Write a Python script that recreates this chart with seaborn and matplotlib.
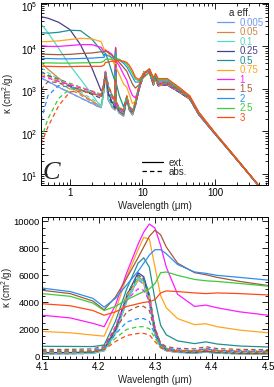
# -*- coding: utf-8 -*-
# Opacites (ext. / abs.) de grains glaces pour plusieurs tailles a_eff
import pandas as pd
import seaborn as sns
import matplotlib
matplotlib.use("Agg")
import matplotlib.pyplot as plt
import matplotlib.transforms as mtransforms
from matplotlib.lines import Line2D
from matplotlib.ticker import LogLocator, FuncFormatter, MultipleLocator, NullFormatter

# --- donnees --------------------------------------------------------------
sizes = ["0.005", "0.05", "0.1", "0.25", "0.5", "0.75", "1", "1.5", "2", "2.5", "3"]
colors = ["#6f9bef", "#d08848", "#52dcc8", "#4a3f8c", "#1f9190", "#ffa51e",
          "#ff1aff", "#a35a3c", "#2a8ff5", "#3ccc3c", "#ff4a14"]

# panneau du haut : grille en longueur d'onde (um)
wl_full = [0.4, 0.5, 0.7, 1.0, 1.4, 2.0, 2.7, 2.95, 3.1, 3.4, 3.8, 4.2, 4.27, 4.35,
           4.8, 5.5, 6.1, 6.6, 7.3, 8.0, 9.0, 10.5, 12.5, 14.2, 15.2, 16.5, 22, 32,
           45, 60, 100, 200, 550]

ext_0005 = [1850, 1500, 1100, 820, 620, 460, 360, 900, 2300, 550, 380, 320, 5800, 380,
            270, 230, 580, 320, 240, 400, 1000, 2500, 2500, 1250, 1800, 1200, 1250, 850,
            580, 250, 88, 22, 2.8]
abs_0005 = [1800, 1480, 1090, 810, 615, 455, 355, 890, 2280, 545, 375, 315, 5750, 375,
            265, 228, 575, 318, 238, 398, 995, 2490, 2490, 1245, 1795, 1195, 1245, 848,
            578, 249, 88, 22, 2.8]
ext_005 = [4200, 2900, 1800, 1150, 780, 530, 380, 920, 2350, 560, 390, 330, 5900, 390,
           280, 240, 590, 330, 250, 410, 1000, 2500, 2500, 1250, 1800, 1200, 1250, 850,
           580, 250, 88, 22, 2.8]
abs_005 = [2600, 2000, 1400, 1000, 720, 500, 370, 900, 2300, 550, 380, 320, 5850, 385,
           275, 235, 585, 325, 245, 405, 995, 2490, 2490, 1245, 1795, 1195, 1245, 848,
           578, 249, 88, 22, 2.8]
ext_01 = [34000, 21000, 9000, 3600, 1700, 760, 370, 950, 2400, 580, 400, 340, 5800, 400,
          290, 250, 600, 340, 260, 420, 1000, 2500, 2500, 1250, 1800, 1200, 1250, 850,
          580, 250, 88, 22, 2.8]
abs_01 = [3200, 2400, 1700, 1200, 850, 590, 420, 980, 2350, 600, 410, 330, 5700, 400,
          285, 245, 595, 335, 255, 415, 995, 2490, 2490, 1245, 1795, 1195, 1245, 848,
          578, 249, 88, 22, 2.8]
ext_025 = [50000, 46000, 37000, 25000, 11000, 3200, 900, 1100, 2600, 800, 500, 380, 6200,
           420, 300, 260, 620, 350, 270, 430, 1000, 2500, 2500, 1250, 1800, 1200, 1250,
           850, 580, 250, 88, 22, 2.8]
abs_025 = [2500, 2100, 1600, 1200, 950, 750, 600, 1100, 2500, 700, 450, 350, 6000, 410,
           295, 255, 610, 345, 265, 425, 995, 2490, 2490, 1245, 1795, 1195, 1245, 848,
           578, 249, 88, 22, 2.8]
ext_05 = [21000, 20500, 21500, 24000, 23500, 15000, 8000, 6000, 7000, 4500, 2500, 1500,
          6500, 1400, 700, 380, 650, 340, 270, 440, 1050, 2550, 2600, 1300, 1850, 1250,
          1300, 880, 590, 255, 89, 22, 2.8]
abs_05 = [2500, 2100, 1700, 1350, 1100, 900, 750, 1400, 2700, 1000, 600, 400, 6000, 420,
          300, 260, 620, 345, 265, 430, 1000, 2450, 2500, 1250, 1800, 1200, 1250, 860,
          585, 253, 89, 22, 2.8]
ext_075 = [13000, 13000, 13500, 14500, 15500, 15000, 13000, 8500, 8500, 7000, 5000, 3500,
           8500, 3200, 2200, 1300, 1100, 750, 450, 520, 1100, 2500, 2700, 1400, 1900, 1300,
           1350, 900, 600, 260, 90, 22, 2.8]
abs_075 = [2200, 1900, 1600, 1300, 1100, 900, 750, 1500, 2700, 1100, 650, 420, 5500, 440,
           310, 270, 640, 350, 270, 440, 1000, 2350, 2500, 1280, 1800, 1220, 1270, 870,
           590, 255, 89, 22, 2.8]
ext_1 = [10500, 10000, 10000, 10500, 11000, 11000, 9500, 7500, 8000, 7500, 6500, 5000,
         9500, 4500, 3500, 2200, 1600, 1050, 700, 620, 1050, 2300, 2700, 1450, 1900, 1350,
         1350, 920, 610, 265, 90, 22, 2.8]
abs_1 = [2000, 1800, 1500, 1250, 1050, 880, 720, 1500, 2600, 1150, 700, 430, 4800, 450,
         320, 280, 650, 360, 280, 450, 950, 2150, 2450, 1300, 1750, 1230, 1260, 880, 595,
         258, 89, 22, 2.8]
ext_15 = [6600, 6500, 6400, 6500, 6800, 7000, 7500, 7200, 8000, 7200, 6200, 5200, 9000,
          5000, 4200, 3200, 2600, 1900, 1300, 1050, 1250, 2300, 2800, 1550, 2000, 1450,
          1450, 960, 630, 270, 91, 22, 2.8]
abs_15 = [950, 1500, 1400, 1150, 950, 800, 680, 1400, 2400, 1150, 720, 470, 3700, 480,
          340, 290, 660, 370, 290, 460, 1050, 2050, 2400, 1350, 1750, 1280, 1300, 900,
          605, 262, 90, 22, 2.8]
ext_2 = [5200, 5200, 5100, 5100, 5200, 5300, 5500, 5500, 6500, 6000, 5500, 5000, 7500,
         5200, 4800, 4000, 3300, 2600, 1900, 1450, 1450, 2300, 2900, 1650, 2100, 1550,
         1550, 1000, 650, 275, 92, 22.5, 2.8]
abs_2 = [180, 700, 1200, 1100, 950, 800, 680, 1350, 2300, 1150, 730, 480, 2800, 490,
         350, 300, 670, 380, 300, 470, 1150, 2000, 2400, 1400, 1750, 1330, 1350, 920, 615,
         265, 90, 22, 2.8]
ext_25 = [4100, 4100, 4050, 4050, 4100, 4150, 4200, 4500, 5000, 5000, 5000, 4700, 6200,
          5000, 5000, 4300, 3800, 3100, 2300, 1700, 1550, 2300, 2950, 1750, 2200, 1650,
          1650, 1050, 670, 280, 93, 22.5, 2.8]
abs_25 = [65, 200, 600, 1000, 950, 800, 680, 1300, 2200, 1150, 740, 490, 2200, 500, 360,
          310, 680, 390, 310, 480, 1200, 1950, 2400, 1450, 1750, 1380, 1400, 940, 625,
          268, 91, 22, 2.8]
ext_3 = [3400, 3400, 3350, 3350, 3400, 3400, 3400, 3600, 4200, 4300, 4500, 4500, 5200,
         4600, 4700, 4500, 4200, 3600, 2700, 1900, 1650, 2300, 3000, 1850, 2300, 1750,
         1750, 1100, 690, 285, 94, 23, 2.8]
abs_3 = [50, 130, 400, 850, 900, 780, 670, 1250, 2100, 1150, 750, 500, 1700, 500, 370,
         320, 690, 400, 320, 490, 1250, 1900, 2400, 1500, 1750, 1420, 1450, 960, 635, 272,
         92, 22, 2.8]

# panneau du bas : zoom sur la bande du CO2 a 4.27 um
wl_co2 = [4.10, 4.15, 4.19, 4.21, 4.23, 4.25, 4.27, 4.28, 4.29, 4.30, 4.31, 4.32, 4.34,
          4.37, 4.39, 4.41, 4.45, 4.50]

co2_ext_0005 = [180, 190, 230, 420, 1700, 4100, 5700, 5400, 4000, 1600, 650, 420, 300,
                240, 320, 240, 190, 170]
co2_abs_0005 = [175, 185, 225, 410, 1680, 4050, 5650, 5350, 3950, 1580, 640, 410, 295,
                235, 315, 235, 185, 165]
co2_ext_005 = [230, 240, 280, 470, 1800, 4200, 5900, 5600, 4100, 1650, 680, 440, 320,
               260, 340, 260, 210, 190]
co2_abs_005 = [220, 230, 270, 460, 1780, 4150, 5850, 5550, 4050, 1630, 670, 430, 315,
               255, 335, 255, 205, 185]
co2_ext_01 = [210, 220, 260, 450, 1750, 4150, 5800, 5550, 4100, 1700, 700, 450, 330,
              270, 350, 270, 220, 200]
co2_abs_01 = [205, 215, 255, 440, 1730, 4100, 5750, 5500, 4050, 1680, 690, 445, 325,
              265, 345, 265, 215, 195]
co2_ext_025 = [280, 290, 330, 560, 2000, 4500, 6200, 5900, 4500, 2000, 850, 530, 380,
               310, 400, 310, 260, 240]
co2_abs_025 = [270, 280, 320, 540, 1950, 4400, 6050, 5750, 4350, 1900, 800, 500, 360,
               295, 385, 295, 250, 230]
co2_ext_05 = [750, 740, 730, 850, 2600, 5000, 6900, 7300, 6600, 4200, 2300, 1600, 1150,
              950, 1080, 920, 770, 700]
co2_abs_05 = [300, 310, 350, 600, 2100, 4600, 6000, 5800, 4600, 2100, 900, 560, 400,
              330, 430, 330, 280, 260]
co2_ext_075 = [1850, 1750, 1580, 1500, 3400, 5900, 7900, 8800, 8700, 6600, 4500, 3600,
               2800, 2350, 2420, 2200, 1950, 1750]
co2_abs_075 = [300, 310, 360, 650, 2200, 4500, 5600, 5400, 4400, 2100, 900, 560, 410,
               340, 460, 350, 300, 280]
co2_ext_1 = [3050, 2850, 2450, 2200, 3800, 6200, 8300, 9200, 9800, 9500, 8200, 6600,
             4600, 3700, 3800, 3600, 3300, 3050]
co2_abs_1 = [380, 390, 430, 700, 2200, 4200, 5000, 4900, 4100, 2100, 950, 620, 470,
             420, 600, 450, 390, 370]
co2_ext_15 = [4900, 4650, 4100, 3450, 4400, 5800, 7300, 8100, 8900, 9350, 9000, 8100,
              6900, 6200, 6050, 5850, 5550, 5250]
co2_abs_15 = [520, 520, 560, 800, 2000, 3300, 3700, 3700, 3400, 1900, 1000, 720, 600,
              560, 720, 580, 520, 500]
co2_ext_2 = [5060, 4800, 4300, 3650, 4300, 5300, 6300, 6900, 7500, 7900, 7900, 7600,
             6800, 6250, 6150, 6000, 5850, 5650]
co2_abs_2 = [420, 420, 450, 650, 1650, 2550, 2800, 2800, 2600, 1600, 850, 600, 480, 440,
             560, 450, 410, 400]
co2_ext_25 = [4650, 4450, 3950, 3400, 3700, 4200, 4600, 4800, 5000, 5400, 6200, 6250,
              6000, 5700, 5600, 5550, 5400, 5200]
co2_abs_25 = [380, 380, 400, 560, 1350, 2000, 2200, 2200, 2050, 1350, 750, 520, 430,
              400, 500, 410, 380, 370]
co2_ext_3 = [3900, 3750, 3400, 3050, 3300, 3700, 3900, 4000, 4050, 4200, 4700, 4850,
             4800, 4700, 4650, 4700, 4650, 4550]
co2_abs_3 = [350, 350, 370, 500, 1100, 1550, 1700, 1700, 1600, 1100, 650, 470, 400, 370,
             450, 380, 350, 340]

ext_full = [ext_0005, ext_005, ext_01, ext_025, ext_05, ext_075, ext_1, ext_15, ext_2,
            ext_25, ext_3]
abs_full = [abs_0005, abs_005, abs_01, abs_025, abs_05, abs_075, abs_1, abs_15, abs_2,
            abs_25, abs_3]
ext_co2 = [co2_ext_0005, co2_ext_005, co2_ext_01, co2_ext_025, co2_ext_05, co2_ext_075,
           co2_ext_1, co2_ext_15, co2_ext_2, co2_ext_25, co2_ext_3]
abs_co2 = [co2_abs_0005, co2_abs_005, co2_abs_01, co2_abs_025, co2_abs_05, co2_abs_075,
           co2_abs_1, co2_abs_15, co2_abs_2, co2_abs_25, co2_abs_3]


def long_table(wl, ext_list, abs_list):
    rows = []
    for s, e, a in zip(sizes, ext_list, abs_list):
        for w, k in zip(wl, e):
            rows.append((w, k, s, "ext"))
        for w, k in zip(wl, a):
            rows.append((w, k, s, "abs"))
    return pd.DataFrame(rows, columns=["wl", "kappa", "size", "kind"])


df_full = long_table(wl_full, ext_full, abs_full)
df_co2 = long_table(wl_co2, ext_co2, abs_co2)

# --- style ------------------------------------------------------------------
sns.set_style("ticks")
plt.rcParams.update({
    "font.family": ["Liberation Sans", "DejaVu Sans"],
    "font.size": 7,
    "mathtext.fontset": "custom",
    "mathtext.rm": "Liberation Sans",
    "mathtext.it": "Liberation Sans:italic",
    "mathtext.bf": "Liberation Sans:bold",
    "axes.linewidth": 0.7,
    "axes.edgecolor": "black",
    "xtick.color": "black",
    "ytick.color": "black",
})

LW = 0.9
DASH = (3.5, 2.5)
ylab = "κ (cm$^2$/g)"
xlab = "Wavelength (μm)"

fig = plt.figure(figsize=(2.74, 3.87), dpi=100)
ax1 = fig.add_axes([41 / 274, 1 - 185 / 387, 227 / 274, 182 / 387])
ax2 = fig.add_axes([42 / 274, 1 - 359 / 387, 226 / 274, 142 / 387])

for ax, df in [(ax1, df_full), (ax2, df_co2)]:
    sns.lineplot(data=df, x="wl", y="kappa", hue="size", style="kind",
                 hue_order=sizes, style_order=["ext", "abs"], palette=colors,
                 dashes={"ext": "", "abs": DASH}, sort=False, estimator=None,
                 lw=LW, legend=False, ax=ax)

# panneau du haut
ax1.set_xscale("log")
ax1.set_yscale("log")
ax1.set_xlim(0.4, 540)
ax1.set_ylim(5.5, 1.05e5)
ax1.xaxis.set_major_locator(LogLocator(base=10, numticks=10))
ax1.xaxis.set_minor_locator(LogLocator(base=10, subs=range(2, 10), numticks=20))
ax1.xaxis.set_major_formatter(FuncFormatter(lambda v, _: f"{v:g}"))
ax1.xaxis.set_minor_formatter(NullFormatter())
ax1.yaxis.set_major_locator(LogLocator(base=10, numticks=10))
ax1.yaxis.set_minor_locator(LogLocator(base=10, subs=range(2, 10), numticks=20))
ax1.yaxis.set_minor_formatter(NullFormatter())
ax1.set_xlabel(xlab, fontsize=7, labelpad=1.5)
ax1.set_ylabel(ylab, fontsize=7)
ax1.yaxis.set_label_coords(-25 / 227, 0.5)

# panneau du bas
ax2.set_xlim(4.1, 4.5)
ax2.set_ylim(-190, 10320)
ax2.xaxis.set_major_locator(MultipleLocator(0.1))
ax2.xaxis.set_minor_locator(MultipleLocator(0.01))
ax2.xaxis.set_major_formatter(FuncFormatter(lambda v, _: f"{v:.1f}"))
ax2.yaxis.set_major_locator(MultipleLocator(2000))
ax2.yaxis.set_minor_locator(MultipleLocator(500))
ax2.set_xlabel(xlab, fontsize=7, labelpad=1.5)
ax2.set_ylabel(ylab, fontsize=7)
ax2.yaxis.set_label_coords(-27 / 226, 0.5)

for ax in (ax1, ax2):
    ax.tick_params(which="both", direction="in", top=True, right=True,
                   labelsize=7, pad=2.5, width=0.6)
    ax.tick_params(which="major", length=4)
    ax.tick_params(which="minor", length=2)
    for sp in ax.spines.values():
        sp.set_visible(True)
ax2.tick_params(axis="y", labelsize=6.8, pad=1.5)

# les etiquettes 10^n un peu sous leur graduation (comme IDL)
shift = mtransforms.ScaledTranslation(0, -2.5 / 100, fig.dpi_scale_trans)
for lab in ax1.yaxis.get_majorticklabels():
    lab.set_transform(lab.get_transform() + shift)

# legende des tailles
size_handles = [Line2D([], [], color=c, lw=LW) for c in colors]
leg = ax1.legend(size_handles, sizes, title="a eff.", loc="upper left",
                 bbox_to_anchor=(0.775, 0.972), frameon=False, fontsize=7,
                 title_fontsize=7, labelcolor="linecolor", handlelength=1.8,
                 handletextpad=0.5, labelspacing=-0.05, borderpad=0,
                 borderaxespad=0)
ax1.add_artist(leg)

# legende ext / abs
kind_handles = [Line2D([], [], color="black", lw=LW),
                Line2D([], [], color="black", lw=LW, ls=(0, DASH))]
ax1.legend(kind_handles, ["ext.", "abs."], loc="upper left",
           bbox_to_anchor=(0.445, 0.15), frameon=False, fontsize=7,
           handlelength=2.2, handletextpad=0.5, labelspacing=-0.1,
           borderpad=0, borderaxespad=0)

ax1.text(0.008, 0.035, "C", transform=ax1.transAxes, fontsize=19,
         family="Liberation Serif", style="italic", va="baseline")

plt.savefig("out.png", dpi=100)
